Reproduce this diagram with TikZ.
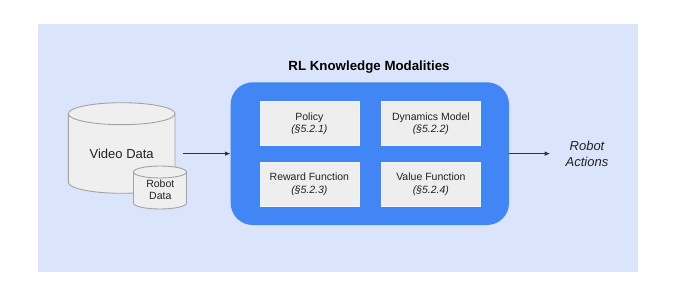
\documentclass[tikz,border=0pt]{standalone}
\usepackage{fontspec}
\setmainfont{Liberation Sans}
\usetikzlibrary{arrows.meta}
\definecolor{bgblue}{HTML}{DAE5FB}
\definecolor{gblue}{HTML}{4285F4}
\definecolor{boxgray}{HTML}{EEEEEE}
\definecolor{cylfill}{HTML}{EFEFEF}
\definecolor{cylline}{HTML}{A3A3A3}
\definecolor{txt}{HTML}{222222}
\definecolor{arr}{HTML}{333333}
\tikzset{
  modbox/.style={fill=boxgray, draw=boxgray!60!white, line width=0.5pt, minimum width=98.7pt, minimum height=44pt, inner sep=0pt, align=center, text=txt, font=\fontsize{10.5}{12.8}\selectfont},
  cyl/.style={fill=cylfill, draw=cylline, line width=0.9pt},
  conn/.style={draw=arr, line width=0.8pt, -{Latex[length=5.5pt,width=4.5pt]}},
}
\begin{document}
\begin{tikzpicture}[x=1pt,y=1pt]
\useasboundingbox (0,0) rectangle (680,303);
% background
\fill[bgblue] (38.3,31) rectangle (638.3,278.7);
% big cylinder
\path[cyl] (68.3,189.3) -- (68.3,120.7) arc[start angle=180,end angle=360,x radius=53.35pt,y radius=11pt] -- (175,189.3) arc[start angle=0,end angle=180,x radius=53.35pt,y radius=11pt] -- cycle;
\draw[cylline, line width=0.9pt] (68.3,189.3) arc[start angle=180,end angle=360,x radius=53.35pt,y radius=11pt];
\node[text=txt, font=\fontsize{13}{16}\selectfont] (video) at (121.7,149) {Video Data};
% small cylinder
\path[cyl] (133.5,131) -- (133.5,100) arc[start angle=180,end angle=360,x radius=26.5pt,y radius=6pt] -- (186.5,131) arc[start angle=0,end angle=180,x radius=26.5pt,y radius=6pt] -- cycle;
\draw[cylline, line width=0.9pt] (133.5,131) arc[start angle=180,end angle=360,x radius=26.5pt,y radius=6pt];
\node[text=txt, align=center, font=\fontsize{10.5}{12}\selectfont] (robotdata) at (160.3,113.5) {Robot\\Data};
% title
\node[text=black, font=\bfseries\fontsize{13.3}{16}\selectfont] (title) at (369,236) {RL Knowledge Modalities};
% blue container
\node[fill=gblue, rounded corners=22pt, minimum width=278.3pt, minimum height=142.7pt, inner sep=0pt] (modal) at (369.85,149.35) {};
% inner boxes
\node[modbox] (policy) at (309.4,179.3) {Policy\\\textit{(§5.2.1)}};
\node[modbox] (dyn) at (430.9,179.3) {Dynamics Model\\\textit{(§5.2.2)}};
\node[modbox] (reward) at (309.4,119) {Reward Function\\\textit{(§5.2.3)}};
\node[modbox] (value) at (430.9,119) {Value Function\\\textit{(§5.2.4)}};
% output
\node[text=txt, align=center, inner xsep=15.3pt, font=\itshape\fontsize{13}{16}\selectfont] (actions) at (587,149) {Robot\\Actions};
% connectors
\coordinate (vsrc) at (182.7,149.35);
\draw[conn] (vsrc) -- (modal.west);
\draw[conn] (modal.east) -- (modal.east -| actions.west);
\end{tikzpicture}
\end{document}
